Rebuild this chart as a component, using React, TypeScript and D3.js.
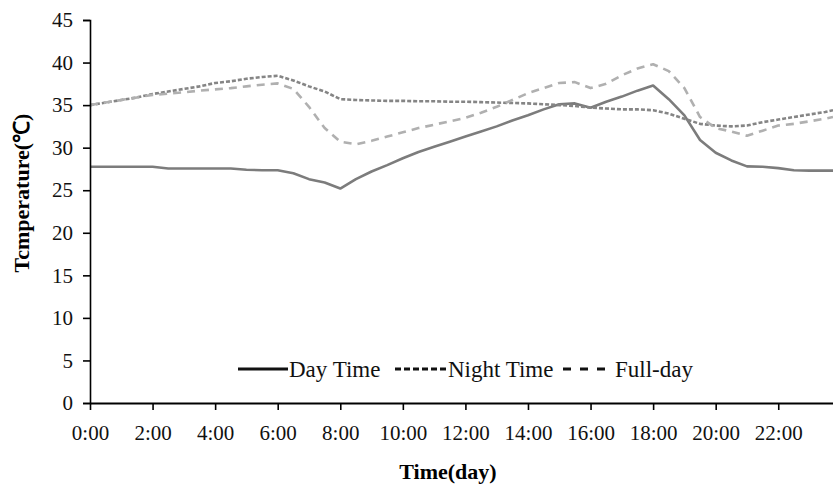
import * as d3 from "d3";
import { useEffect, useRef } from "react";

const hours = [
  0, 0.5, 1, 1.5, 2, 2.5, 3, 3.5, 4, 4.5, 5, 5.5, 6, 6.5, 7, 7.5, 8, 8.5, 9, 9.5, 10, 10.5, 11, 11.5, 12,
  12.5, 13, 13.5, 14, 14.5, 15, 15.5, 16, 16.5, 17, 17.5, 18, 18.5, 19, 19.5, 20, 20.5, 21, 21.5, 22, 22.5,
  23, 23.5, 23.75,
];

const dayTime = [
  27.75, 27.75, 27.75, 27.75, 27.75, 27.55, 27.55, 27.55, 27.55, 27.55, 27.4, 27.35, 27.35, 27.0, 26.3, 25.9,
  25.2, 26.3, 27.2, 27.95, 28.75, 29.5, 30.1, 30.7, 31.3, 31.9, 32.5, 33.2, 33.8, 34.5, 35.1, 35.2, 34.7,
  35.4, 36.0, 36.7, 37.3, 35.7, 33.8, 30.9, 29.4, 28.5, 27.8, 27.75, 27.6, 27.35, 27.3, 27.3, 27.3,
];

const nightTime = [
  35.0, 35.3, 35.6, 35.9, 36.3, 36.6, 36.9, 37.2, 37.6, 37.8, 38.1, 38.3, 38.45, 37.9, 37.2, 36.6, 35.7, 35.6,
  35.55, 35.5, 35.5, 35.45, 35.45, 35.4, 35.4, 35.35, 35.3, 35.25, 35.2, 35.1, 35.0, 34.9, 34.7, 34.6, 34.5,
  34.5, 34.4, 34.0, 33.4, 32.8, 32.6, 32.5, 32.6, 33.0, 33.3, 33.6, 33.9, 34.2, 34.4,
];

const fullDay = [
  35.0, 35.3, 35.6, 35.9, 36.2, 36.35, 36.5, 36.7, 36.85, 37.0, 37.2, 37.4, 37.55, 36.9, 34.8, 32.3, 30.7,
  30.4, 30.8, 31.3, 31.8, 32.3, 32.7, 33.1, 33.5, 34.1, 34.8, 35.6, 36.4, 37.0, 37.6, 37.7, 37.0, 37.5, 38.5,
  39.3, 39.8, 39.0, 37.0, 33.6, 32.3, 31.9, 31.4, 32.0, 32.6, 32.8, 33.1, 33.4, 33.6,
];

const xTicks = [0, 2, 4, 6, 8, 10, 12, 14, 16, 18, 20, 22];
const yTicks = [0, 5, 10, 15, 20, 25, 30, 35, 40, 45];

const seriesNames = ["Day Time", "Night Time", "Full-day"];
const seriesValues = [dayTime, nightTime, fullDay];
const seriesColors = ["#7c7c7c", "#858585", "#b0b0b0"];
const seriesDash = ["none", "4,2", "8,6"];
const legendDash = ["none", "6,3", "8,9"];

const WIDTH = 833;
const HEIGHT = 486;
const FONT = "'Liberation Serif', 'Times New Roman', serif";

const drawChart = (svgElement: SVGSVGElement) => {
  const svg = d3.select(svgElement);
  svg.selectAll("*").remove();

  const x = d3.scaleLinear().domain([0, 23.75]).range([90, 833]);
  const y = d3.scaleLinear().domain([0, 45]).range([403, 20]);

  const root = svg.append("g");

  // lines first, axes on top
  const line = d3
    .line<number>()
    .x((_, i) => x(hours[i]))
    .y((v) => y(v));

  seriesValues.forEach((values, i) => {
    root
      .append("path")
      .datum(values)
      .attr("d", line)
      .attr("fill", "none")
      .attr("stroke", seriesColors[i])
      .attr("stroke-width", 2.6)
      .attr("stroke-linejoin", "round")
      .attr("stroke-dasharray", seriesDash[i]);
  });

  const yAxis = root
    .append("g")
    .attr("transform", `translate(${x(0)},0)`)
    .call(d3.axisLeft(y).tickValues(yTicks).tickSize(7).tickPadding(10).tickFormat(d3.format("d")));
  yAxis.select(".domain").attr("stroke", "#000").attr("stroke-width", 1.6);
  yAxis.selectAll(".tick line").attr("stroke", "#000").attr("stroke-width", 1.6);
  yAxis.selectAll("text").style("font-family", FONT).style("font-size", "21px").attr("fill", "#111");

  const xAxis = root
    .append("g")
    .attr("transform", `translate(0,${y(0)})`)
    .call(
      d3
        .axisBottom(x)
        .tickValues(xTicks)
        .tickSize(7)
        .tickSizeOuter(0)
        .tickPadding(15)
        .tickFormat((d) => `${d}:00`)
    );
  xAxis.select(".domain").attr("stroke", "#000").attr("stroke-width", 1.8);
  xAxis.selectAll(".tick line").attr("stroke", "#000").attr("stroke-width", 1.6);
  xAxis.selectAll("text").style("font-family", FONT).style("font-size", "21px").attr("fill", "#111");

  root
    .append("text")
    .attr("transform", "translate(29,193) rotate(-90)")
    .attr("text-anchor", "middle")
    .style("font-family", FONT)
    .style("font-size", "22px")
    .style("font-weight", "bold")
    .text("Tcmperature(\u2103)");

  root
    .append("text")
    .attr("x", 448)
    .attr("y", 479)
    .attr("text-anchor", "middle")
    .style("font-family", FONT)
    .style("font-size", "22px")
    .style("font-weight", "bold")
    .text("Time(day)");

  // legend
  const legendItems = [
    { x1: 238, x2: 288, tx: 289 },
    { x1: 395, x2: 448, tx: 448 },
    { x1: 563, x2: 607, tx: 615 },
  ];
  const legendY = 369;
  legendItems.forEach((item, i) => {
    root
      .append("line")
      .attr("x1", item.x1)
      .attr("x2", item.x2)
      .attr("y1", legendY)
      .attr("y2", legendY)
      .attr("stroke", "#111")
      .attr("stroke-width", 3)
      .attr("stroke-dasharray", legendDash[i]);
    root
      .append("text")
      .attr("x", item.tx)
      .attr("y", legendY + 8)
      .style("font-family", FONT)
      .style("font-size", "23px")
      .attr("fill", "#111")
      .text(seriesNames[i]);
  });
};

const App = () => {
  const svgRef = useRef<SVGSVGElement | null>(null);

  useEffect(() => {
    if (!svgRef.current) return;
    drawChart(svgRef.current);
  }, []);

  return (
    <div style={{ position: "absolute", left: 0, top: 0, width: WIDTH, height: HEIGHT, background: "white" }}>
      <svg ref={svgRef} width={WIDTH} height={HEIGHT} style={{ display: "block" }} />
    </div>
  );
};

export default App;
